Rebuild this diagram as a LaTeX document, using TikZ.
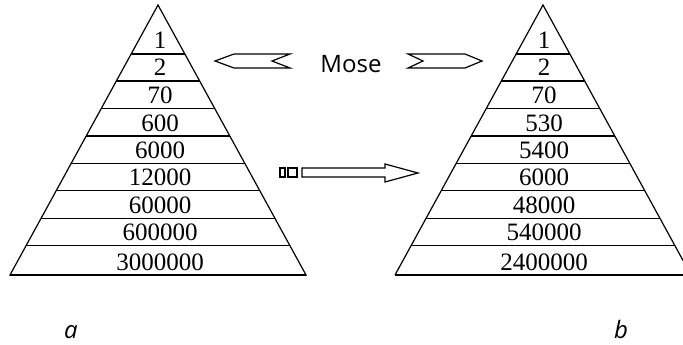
\documentclass[tikz,border=0pt]{standalone}
\usepackage{fontspec}
\setmainfont{Liberation Serif}
\newfontfamily\tagfont{Open Sans}
\begin{document}
\begin{tikzpicture}[x=1pt,y=-1pt,line join=miter,line width=1.2pt]
	\tikzset{num/.style={anchor=base,inner sep=0pt,font=\fontsize{25}{25}\selectfont},
		tag/.style={anchor=base,inner sep=0pt,font=\tagfont\fontsize{24}{24}\selectfont}}
	\useasboundingbox (0,0) rectangle (683,345);
	% left pyramid
	\draw (10,275) -- (158,5) -- (306,275) -- cycle;
	\foreach \v/\y [count=\i] in {1/54,2/81,70/108.7,600/136,6000/163.3,12000/190.7,60000/218.3,600000/245.3,3000000/275}
	{
		\draw ({158-0.548*(\y-5)},\y) -- ({158+0.548*(\y-5)},\y);
		\node[num] (a\i) at (160,\y-5) {\v};
	}
	% right pyramid
	\draw (395,275) -- (543,5) -- (691,275);
	\foreach \v/\y [count=\i] in {1/54,2/81,70/108.7,530/136,5400/163.3,6000/190.7,48000/218.3,540000/245.3,2400000/275}
	{
		\draw ({543-0.548*(\y-5)},\y) -- ({543+0.548*(\y-5)},\y);
		\node[num] (b\i) at (544,\y-5) {\v};
	}
	% arrows
	\node[tag] (mose) at (351,73) {Mose};
	\draw (215,61) -- (234,54) -- (290,54) -- (272,61) -- (290,68) -- (234,68) -- cycle;
	\draw (408,54) -- (465,54) -- (482,61) -- (465,68) -- (408,68) -- (423,61) -- cycle;
	\draw (280,168) rectangle (285,177);
	\draw (288,168) rectangle (297,177);
	\draw (302,168) -- (385,168) -- (385,164) -- (418,173) -- (385,182) -- (385,177) -- (302,177) -- cycle;
	% captions
	\node[tag,font=\tagfont\itshape\fontsize{24}{24}\selectfont] (capa) at (71,338) {a};
	\node[tag,font=\tagfont\itshape\fontsize{24}{24}\selectfont] (capb) at (621,338) {b};
\end{tikzpicture}
\end{document}
